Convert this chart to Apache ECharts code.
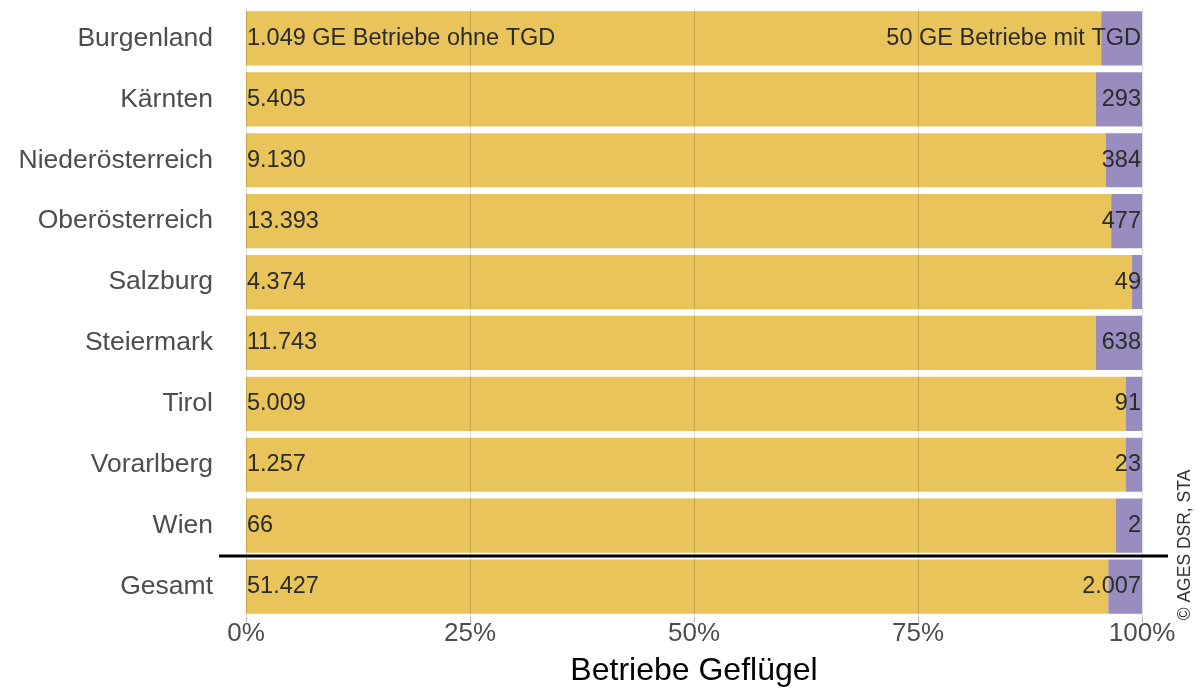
<!DOCTYPE html>
<html>
<head>
<meta charset="utf-8">
<script src="https://cdn.jsdelivr.net/npm/echarts@6/dist/echarts.min.js"></script>
<style>
  html, body { margin: 0; padding: 0; background: #fff; }
  #chart { width: 1200px; height: 690px; }
</style>
</head>
<body>
<div id="chart"></div>
<script>
const regions = ['Burgenland', 'Kärnten', 'Niederösterreich', 'Oberösterreich', 'Salzburg',
  'Steiermark', 'Tirol', 'Vorarlberg', 'Wien', 'Gesamt'];
const ohneTGD = [1049, 5405, 9130, 13393, 4374, 11743, 5009, 1257, 66, 51427];
const mitTGD = [50, 293, 384, 477, 49, 638, 91, 23, 2, 2007];
const xTicks = [0, 25, 50, 75, 100];

// thousands with a dot, like the original
function fmt(n) {
  return String(n).replace(/\B(?=(\d{3})+(?!\d))/g, '.');
}

const share = (arr) => arr.map((v, i) => v / (ohneTGD[i] + mitTGD[i]) * 100);

const chart = echarts.init(document.getElementById('chart'));

chart.setOption({
  animation: false,
  textStyle: { fontFamily: 'Liberation Sans, Arial, sans-serif' },
  grid: { left: 246, right: 58, top: 8, bottom: 73, outerBoundsMode: 'none', containLabel: false },
  xAxis: {
    type: 'value',
    min: 0,
    max: 100,
    interval: 25,
    z: 5,
    name: 'Betriebe Geflügel',
    nameLocation: 'middle',
    nameGap: 38,
    nameTextStyle: { fontSize: 32, color: '#000' },
    axisLine: { show: false },
    axisTick: { show: true, length: 5, lineStyle: { color: '#b3b3b3' } },
    axisLabel: {
      fontSize: 26,
      color: '#4d4d4d',
      margin: 4,
      formatter: v => xTicks.includes(v) ? v + '%' : ''
    },
    splitLine: { show: true, lineStyle: { color: 'rgba(0,0,0,0.13)', width: 1.2 } }
  },
  yAxis: {
    type: 'category',
    data: regions,
    inverse: true,
    axisLine: { show: false },
    axisTick: { show: false },
    axisLabel: { fontSize: 26.5, color: '#4d4d4d', margin: 33 }
  },
  series: [
    {
      name: 'ohne TGD',
      type: 'bar',
      stack: 'all',
      barCategoryGap: '11%',
      data: share(ohneTGD),
      itemStyle: { color: '#E8C45A' },
      label: {
        show: true,
        position: 'insideLeft',
        distance: 1,
        fontSize: 23.5,
        color: '#2b2b2b',
        formatter: p => p.dataIndex === 0
          ? fmt(ohneTGD[0]) + ' GE Betriebe ohne TGD'
          : fmt(ohneTGD[p.dataIndex])
      }
    },
    {
      name: 'mit TGD',
      type: 'bar',
      stack: 'all',
      data: share(mitTGD),
      itemStyle: { color: '#998DBF' },
      label: {
        show: true,
        position: 'insideRight',
        distance: 1,
        fontSize: 23.5,
        color: '#2b2b2b',
        formatter: p => p.dataIndex === 0
          ? fmt(mitTGD[0]) + ' GE Betriebe mit TGD'
          : fmt(mitTGD[p.dataIndex])
      }
    }
  ]
});

// separator line between Wien and Gesamt, placed from the axis scale
const yWien = chart.convertToPixel({ yAxisIndex: 0 }, 'Wien');
const yGes = chart.convertToPixel({ yAxisIndex: 0 }, 'Gesamt');
const ySep = Math.round((yWien + yGes) / 2);
const x0 = chart.convertToPixel({ xAxisIndex: 0 }, 0);
const x100 = chart.convertToPixel({ xAxisIndex: 0 }, 100);

chart.setOption({
  graphic: [
    {
      type: 'line',
      z: 10,
      shape: { x1: x0 - 27, y1: ySep, x2: x100 + 26, y2: ySep },
      style: { stroke: '#000', lineWidth: 3 }
    },
    {
      type: 'text',
      x: 1185,
      y: 545,
      rotation: Math.PI / 2,
      style: {
        text: '© AGES DSR, STA',
        fontSize: 17.5,
        fill: '#333',
        align: 'center',
        verticalAlign: 'middle',
        fontFamily: 'Liberation Sans, Arial, sans-serif'
      }
    }
  ]
});
</script>
</body>
</html>
